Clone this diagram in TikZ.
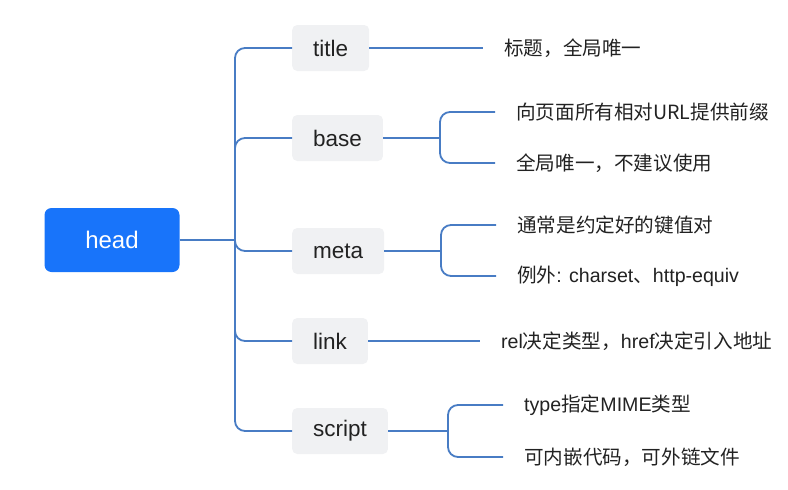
\documentclass[tikz,border=0pt]{standalone}
\usepackage{fontspec}
\setmainfont{Liberation Sans}
\newfontfamily\cjk{Noto Sans CJK SC}
\definecolor{headblue}{RGB}{24,116,250}
\definecolor{linkblue}{RGB}{72,124,196}
\definecolor{boxgray}{RGB}{240,241,243}
\definecolor{inkdark}{RGB}{34,34,34}
\tikzset{
  rootbox/.style={fill=headblue, text=white, rounded corners=7pt, minimum width=135pt,
    minimum height=64pt, font=\fontsize{24}{28}\selectfont},
  childbox/.style={fill=boxgray, text=inkdark, rounded corners=5pt, anchor=west,
    inner xsep=21pt, minimum height=46pt, font=\fontsize{22.5}{26}\selectfont},
  desc/.style={anchor=west, inner xsep=21pt, text=inkdark, font=\cjk\fontsize{19.6}{23}\selectfont},
  branch/.style={draw=linkblue, line width=1.8pt, rounded corners=10pt},
}
\begin{document}
\begin{tikzpicture}[x=1pt, y=-1pt]
    \useasboundingbox (0,0) rectangle (788,490);
    % root and trunk
    \node[rootbox] (head) at (112,240) {head};
    \coordinate (hub) at (235,240);
    \draw[branch] (head.east) -- (hub);
    % second level: one box per tag
    \foreach \name/\y in {title/48, base/138, meta/251, link/341, script/431} {
      \node[childbox] (\name) at (292,\y) {\name};
      \draw[branch] (hub) |- (\name.west);
    }
    % title: one note
    \node[desc] (titled) at (483,48) {标题，全局唯一};
    \draw[branch] (title.east) -- (title.east -| titled.west);
    % base: two notes
    \coordinate (basej) at (440,138);
    \node[desc] (based1) at (495,112) {向页面所有相对URL提供前缀};
    \node[desc] (based2) at (495,163) {全局唯一，不建议使用};
    \draw[branch] (base.east) -- (basej);
    \draw[branch] (basej) |- (based1.west);
    \draw[branch] (basej) |- (based2.west);
    % meta: two notes
    \coordinate (metaj) at (441,251);
    \node[desc] (metad1) at (496,225) {通常是约定好的键值对};
    \node[desc] (metad2) at (496,276) {例外{\rmfamily: charset}、{\rmfamily http-equiv}};
    \draw[branch] (meta.east) -- (metaj);
    \draw[branch] (metaj) |- (metad1.west);
    \draw[branch] (metaj) |- (metad2.west);
    % link: one note
    \node[desc] (linkd) at (480,341) {{\rmfamily rel}决定类型，{\rmfamily href}决定引入地址};
    \draw[branch] (link.east) -- (link.east -| linkd.west);
    % script: two notes
    \coordinate (scriptj) at (448,431);
    \node[desc] (scriptd1) at (503,405) {{\rmfamily type}指定{\rmfamily MIME}类型};
    \node[desc] (scriptd2) at (503,457) {可内嵌代码，可外链文件};
    \draw[branch] (script.east) -- (scriptj);
    \draw[branch] (scriptj) |- (scriptd1.west);
    \draw[branch] (scriptj) |- (scriptd2.west);
  \end{tikzpicture}
\end{document}
